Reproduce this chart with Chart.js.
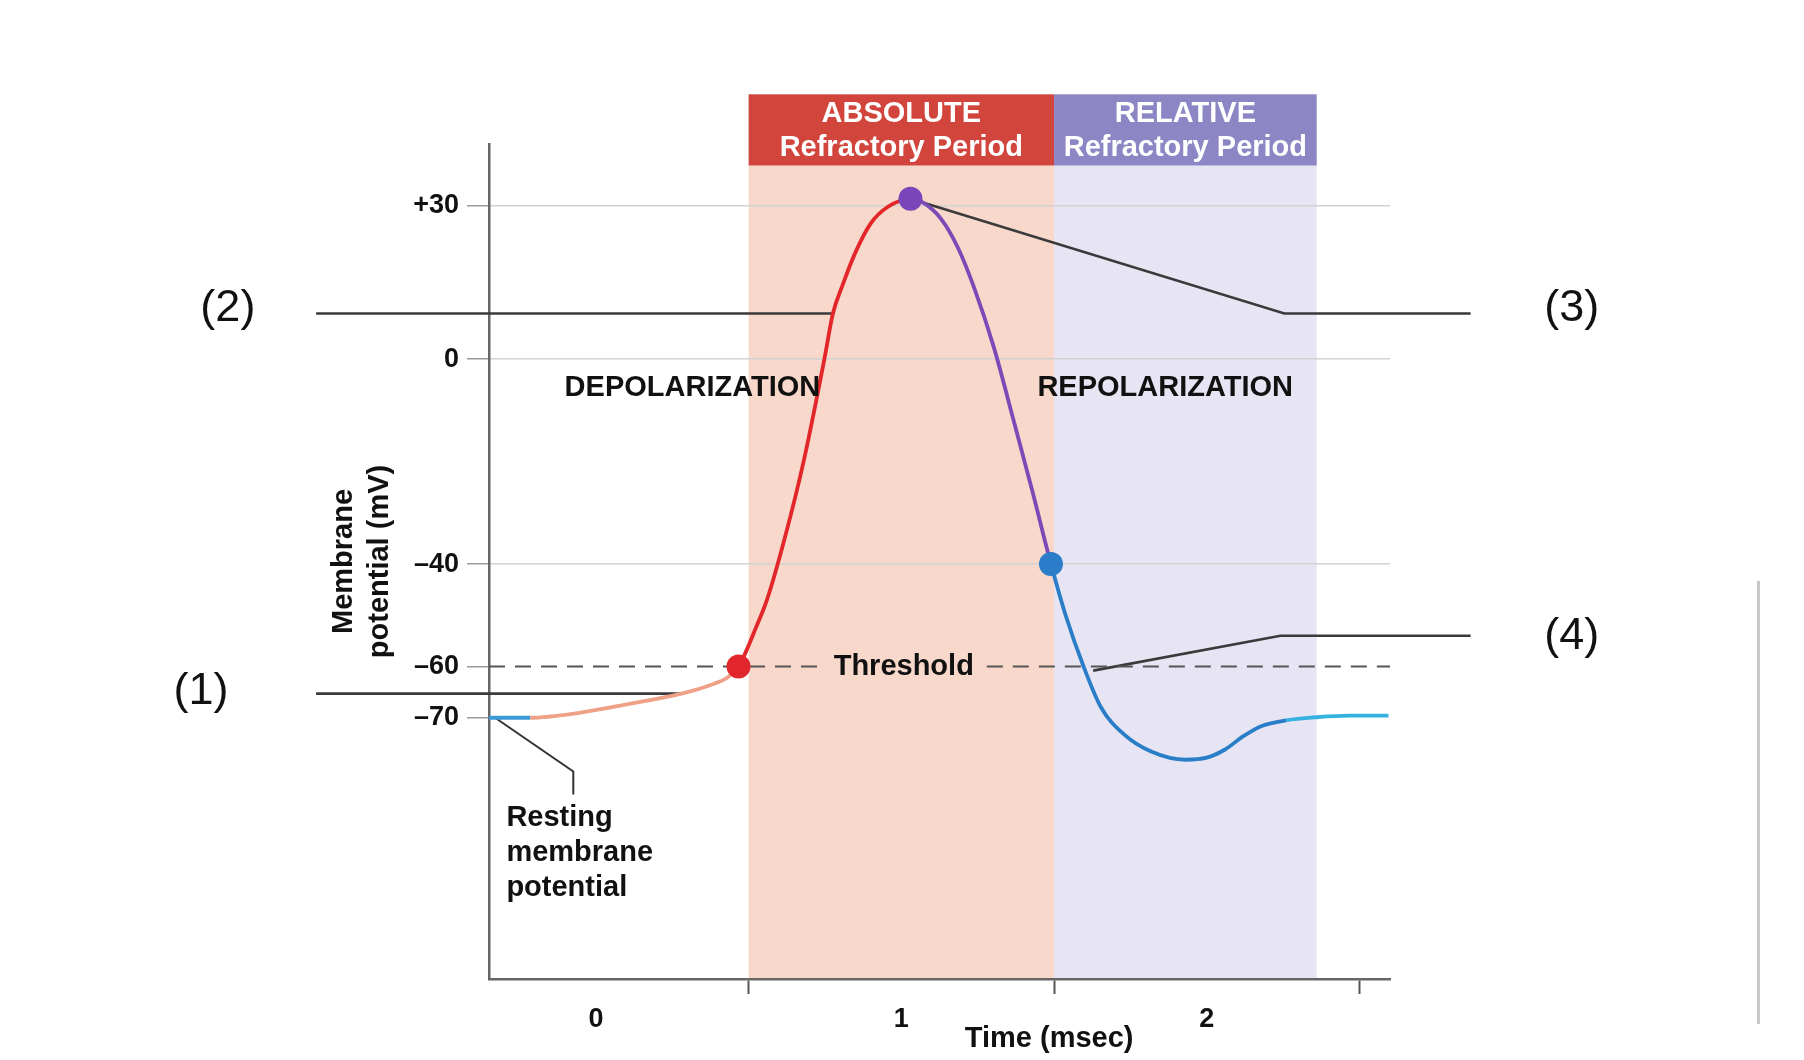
<!DOCTYPE html>
<html>
<head>
<meta charset="utf-8">
<title>Action potential</title>
<script src="https://cdn.jsdelivr.net/npm/chart.js@4.4.1/dist/chart.umd.min.js"></script>
<style>
  html, body { margin: 0; padding: 0; background: #fff; }
  #wrap { position: relative; width: 1804px; height: 1060px; }
  #edge { position: absolute; left: 1757px; top: 581px; width: 3px; height: 443px; background: #c8c8c8; }
</style>
</head>
<body>
<div id="wrap">
  <canvas id="apChart" width="1804" height="1060"></canvas>
  <div id="edge"></div>
</div>
<script>
// membrane potential trace: time (msec) / potential (mV)
const timeMs = [-0.35, -0.215, -0.05, 0.11, 0.28, 0.385, 0.43, 0.467, 0.492, 0.52,
                0.56, 0.618, 0.68, 0.748, 0.776, 0.808, 0.848, 0.9, 0.955, 1.03,
                1.07, 1.13, 1.185, 1.238, 1.303, 1.37, 1.43, 1.49, 1.538, 1.598,
                1.654, 1.73, 1.818, 1.93, 2.0, 2.06, 2.12, 2.18, 2.26, 2.36,
                2.47, 2.595];
const potential = [-70, -70, -69, -67.3, -65.3, -63.4, -62.2, -60, -57, -53,
                   -47, -35, -20, 0, 8.9, 14.5, 20.6, 26.5, 29.7, 31.3,
                   30.6, 27.4, 21.8, 14, 2.3, -12.5, -26, -40, -50, -60.2,
                   -68, -73.3, -76.6, -78.2, -77.8, -76.2, -73.6, -71.6, -70.5, -69.9,
                   -69.6, -69.6];
const thresholdIdx = 7;   // red dot
const peakIdx = 19;       // purple dot
const repolIdx = 27;      // blue dot
const fadeIdx = 38;       // trace turns light blue

const yTickValues = [30, 0, -40, -60, -70];
const yTickLabels = ['+30', '0', '–40', '–60', '–70'];
const xTickValues = [0, 1, 2];
const xBoundaries = [0.5, 1.5, 2.5];

const thresholdMv = -60;

// refractory periods
const periodLabels = [['ABSOLUTE', 'Refractory Period'], ['RELATIVE', 'Refractory Period']];
const periodFrom = [0.5, 1.5];
const periodTo = [1.5, 2.36];

// numbered callouts (1)..(4)
const calloutNames = ['(1)', '(2)', '(3)', '(4)'];
const calloutX = [[-0.916, 0.277], [-0.916, 0.776], [1.03, 2.254, 2.864], [1.628, 2.241, 2.864]];
const calloutY = [[-65.3, -65.3], [8.9, 8.9], [31.3, 8.9, 8.9], [-60.8, -54, -54]];

// resting potential pointer
const restX = [-0.33, -0.074, -0.074];
const restY = [-70, -80.5, -85];

// where the extra texts sit (data units)
const place = {
  bandTop: 37.8, headTop: 51.7,
  depol: [0.316, -5.7], repol: [1.864, -5.7],
  threshText: [1.008, -60], threshGap: [0.737, 1.28],
  rest: [-0.293, -89.5], restStep: 6.85,
  timeTitle: [1.484, -132.7],
  numbers: [[-1.293, -64.9], [-1.205, 9.9], [3.195, 9.9], [3.195, -54.2]]
};

const bandColors = ['#f8d8ca', '#e7e5f4'];
const headColors = ['#d2453c', '#8c86c5'];
const FONT = "'Liberation Sans', Arial, Helvetica, sans-serif";

Chart.defaults.font.family = FONT;

function pts(xs, ys) {
  return xs.map((x, i) => ({ x: x, y: ys[i] }));
}

function segColor(i) {
  if (i < 1) return '#3b9bd6';
  if (i < thresholdIdx) return '#efa188';
  if (i < peakIdx) return '#e2262a';
  if (i < repolIdx) return '#7a4ab6';
  if (i < fadeIdx) return '#2a7ec8';
  return '#35b2df';
}

const dotColors = {};
dotColors[thresholdIdx] = '#e0262c';
dotColors[peakIdx] = '#7a45b8';
dotColors[repolIdx] = '#2b7dc9';

const decor = {
  id: 'decor',
  beforeDraw(chart) {
    const { ctx, chartArea, scales: { x, y } } = chart;
    ctx.save();
    for (let i = 0; i < periodFrom.length; i++) {
      const x0 = x.getPixelForValue(periodFrom[i]);
      const x1 = x.getPixelForValue(periodTo[i]);
      const bTop = y.getPixelForValue(place.bandTop);
      const hTop = y.getPixelForValue(place.headTop);
      ctx.fillStyle = bandColors[i];
      ctx.fillRect(x0, bTop, x1 - x0, chartArea.bottom - bTop);
      ctx.fillStyle = headColors[i];
      ctx.fillRect(x0, hTop, x1 - x0, bTop - hTop);
      ctx.fillStyle = '#ffffff';
      ctx.font = 'bold 29px ' + FONT;
      ctx.textAlign = 'center';
      ctx.textBaseline = 'middle';
      const cx = (x0 + x1) / 2, cy = (hTop + bTop) / 2;
      ctx.fillText(periodLabels[i][0], cx, cy - 16);
      ctx.fillText(periodLabels[i][1], cx, cy + 18);
    }
    ctx.restore();
  },
  afterDatasetsDraw(chart) {
    const { ctx, scales: { x, y } } = chart;
    const px = v => x.getPixelForValue(v), py = v => y.getPixelForValue(v);
    ctx.save();
    ctx.fillStyle = '#111';
    ctx.textBaseline = 'middle';
    ctx.font = 'bold 29px ' + FONT;
    ctx.textAlign = 'center';
    ctx.fillText('DEPOLARIZATION', px(place.depol[0]), py(place.depol[1]));
    ctx.fillText('REPOLARIZATION', px(place.repol[0]), py(place.repol[1]));
    ctx.fillText('Threshold', px(place.threshText[0]), py(place.threshText[1]));
    ctx.fillText('Time (msec)', px(place.timeTitle[0]), py(place.timeTitle[1]));
    ctx.textAlign = 'left';
    ['Resting', 'membrane', 'potential'].forEach((t, i) => {
      ctx.fillText(t, px(place.rest[0]), py(place.rest[1] - i * place.restStep));
    });
    ctx.font = '45px ' + FONT;
    ctx.textAlign = 'center';
    calloutNames.forEach((t, i) => {
      ctx.fillText(t, px(place.numbers[i][0]), py(place.numbers[i][1]));
    });
    ctx.restore();
  }
};

const datasets = [
  {
    data: pts(timeMs, potential),
    borderWidth: 3.8,
    cubicInterpolationMode: 'monotone',
    segment: { borderColor: c => segColor(c.p0DataIndex) },
    pointRadius: c => dotColors[c.dataIndex] ? 12 : 0,
    pointBackgroundColor: c => dotColors[c.dataIndex] || 'transparent',
    pointBorderWidth: 0
  },
  {
    data: [{ x: -0.35, y: thresholdMv }, { x: place.threshGap[0], y: thresholdMv },
           { x: 1.0, y: null },
           { x: place.threshGap[1], y: thresholdMv }, { x: 2.6, y: thresholdMv }],
    borderColor: '#555', borderWidth: 2, borderDash: [16, 10],
    pointRadius: 0, spanGaps: false
  }
];
calloutX.forEach((xs, i) => {
  datasets.push({
    data: pts(xs, calloutY[i]), borderColor: '#3a3a3a', borderWidth: 2.6,
    pointRadius: 0, tension: 0, clip: false
  });
});
datasets.push({
  data: pts(restX, restY), borderColor: '#333', borderWidth: 2,
  pointRadius: 0, tension: 0, clip: false
});

new Chart(document.getElementById('apChart'), {
  type: 'line',
  data: { datasets: datasets },
  options: {
    responsive: false,
    animation: false,
    layout: { padding: { left: 320, top: 144, right: 414, bottom: 21 } },
    plugins: { legend: { display: false }, tooltip: { enabled: false } },
    scales: {
      x: {
        type: 'linear', min: -0.35, max: 2.6,
        afterBuildTicks: s => {
          s.ticks = xTickValues.concat(xBoundaries).sort((a, b) => a - b).map(v => ({ value: v }));
        },
        afterFit: s => { s.height = 60; },
        ticks: {
          autoSkip: false, maxRotation: 0, padding: 9, color: '#111',
          font: { size: 27, weight: 'bold' },
          callback: v => Number.isInteger(v) ? String(v) : ''
        },
        grid: {
          drawOnChartArea: false, tickLength: 15, tickWidth: 2,
          tickColor: c => (c.tick && !Number.isInteger(c.tick.value)) ? '#555' : 'rgba(0,0,0,0)'
        },
        border: { color: '#666', width: 2.5 }
      },
      y: {
        type: 'linear', min: -121, max: 42,
        afterBuildTicks: s => { s.ticks = yTickValues.map(v => ({ value: v })); },
        afterFit: s => { s.width = 169; },
        ticks: {
          padding: 8, color: '#111', font: { size: 27, weight: 'bold' },
          callback: v => yTickLabels[yTickValues.indexOf(v)]
        },
        grid: {
          color: c => (c.tick && c.tick.value >= -40) ? '#d2d2d2' : 'rgba(0,0,0,0)',
          lineWidth: 1.5, tickLength: 22, tickColor: '#9a9a9a', tickWidth: 1.5
        },
        border: { color: '#666', width: 2.5 },
        title: {
          display: true, text: ['Membrane', 'potential (mV)'], color: '#111',
          font: { size: 29, weight: 'bold', lineHeight: 1.25 },
          padding: { top: 6, bottom: 0 }
        }
      }
    }
  },
  plugins: [decor]
});
</script>
</body>
</html>
